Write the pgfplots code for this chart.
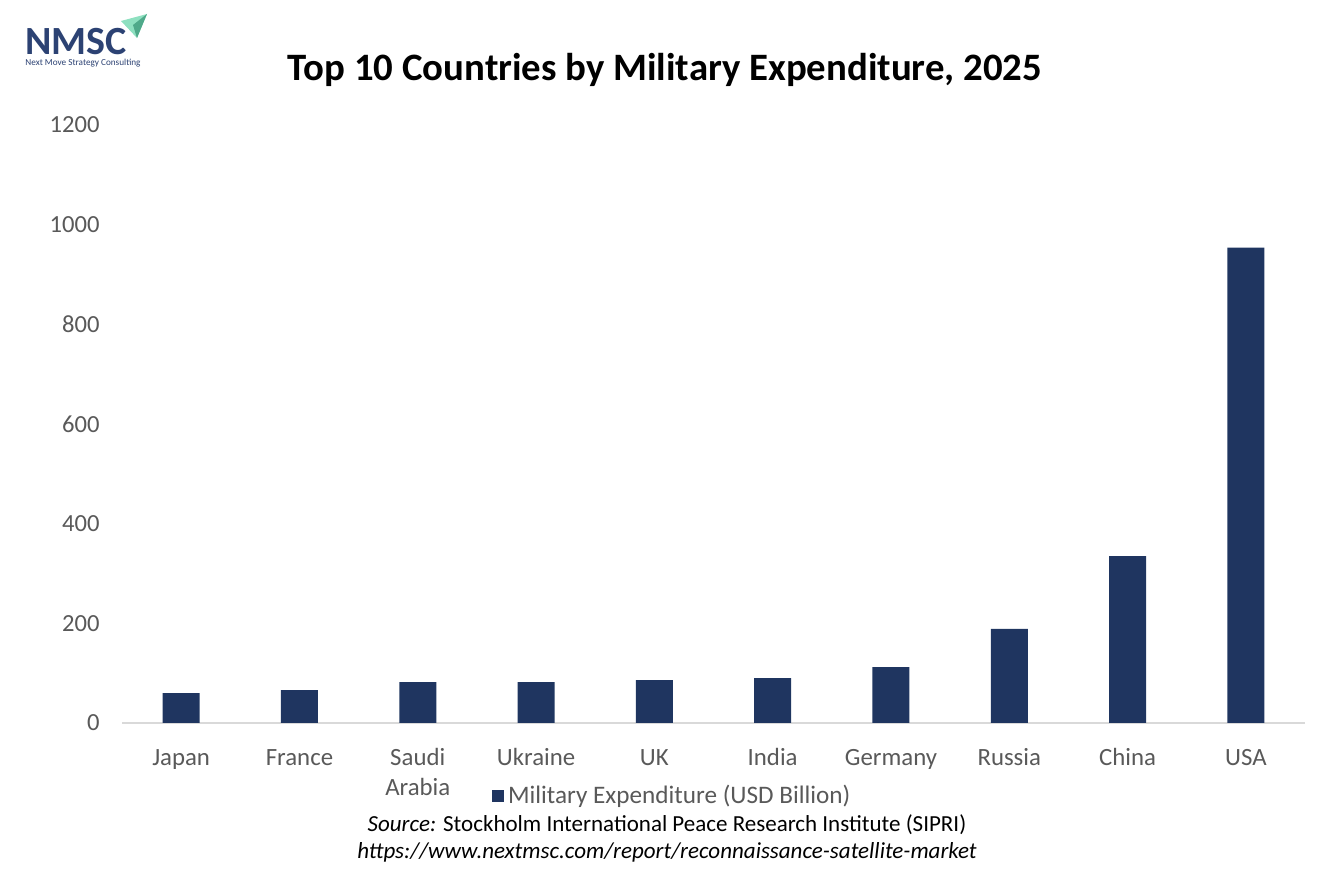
\documentclass[border=0pt]{standalone}
\usepackage{pgfplots}
\pgfplotsset{compat=1.18}
\usepackage{fontspec}
\setmainfont{Carlito}
\definecolor{barblue}{HTML}{1F3560}
\definecolor{tickgray}{HTML}{595959}
\definecolor{axisgray}{HTML}{D9D9D9}
\definecolor{logoblue}{HTML}{2C4273}
\definecolor{mint}{HTML}{8EE0C0}
\definecolor{teal}{HTML}{4FA98A}
\newcommand\PX[2]{({0.5*#1pt},{0.5*(889-#2)*1pt})}
\begin{document}
\begin{tikzpicture}
\path[use as bounding box] \PX{0}{0} rectangle \PX{1334}{889};
% logo
\fill[mint] \PX{121}{21} -- \PX{147}{14} -- \PX{137}{38} -- cycle;
\fill[teal] \PX{133}{25} -- \PX{147}{14} -- \PX{137}{38} -- cycle;
\node[anchor=base west,inner sep=0pt,text=logoblue,font=\fontsize{20}{20}\selectfont\bfseries] at \PX{25}{55} {NMSC};
\node[anchor=base west,inner sep=0pt,text=logoblue,font=\fontsize{4.6}{5}\selectfont] at \PX{25}{66} {Next Move Strategy Consulting};
% title
\node[font=\fontsize{19.4}{21}\selectfont\bfseries] at \PX{665}{70} {Top 10 Countries by Military Expenditure, 2025};
\begin{axis}[
  at={(61pt,83pt)}, anchor=south west,
  scale only axis, width=591.5pt, height=299pt,
  xmin=-0.5, xmax=9.5, ymin=0, ymax=1200,
  axis x line*=bottom, axis y line=none,
  x axis line style={axisgray, line width=1pt, -},
  xtick={0,...,9},
  xticklabels={Japan,France,\rule{0pt}{10.9pt}Saudi\\Arabia,Ukraine,UK,India,Germany,Russia,China,USA},
  x tick label style={align=center, font=\fontsize{12.4}{15}\selectfont, text=tickgray, anchor=north, yshift=-7pt, execute at begin node=\strut},
  major tick length=0pt,
  clip=false,
  legend style={at={(0.466,-0.122)}, anchor=center, draw=none, fill=none,
    font=\fontsize{12.6}{14}\selectfont, text=tickgray, inner sep=0pt,
    legend cell align=left},
  legend image code/.code={\fill[barblue] (0pt,-3pt) rectangle (6pt,3pt);},
]
\addplot[ybar, bar width=18.5pt, fill=barblue, draw=none] coordinates {
  (0,60) (1,66) (2,82) (3,82) (4,86) (5,90) (6,112) (7,189) (8,335) (9,954)};
\addlegendentry{Military Expenditure (USD Billion)}
\end{axis}
\foreach \v/\yy in {0/723,200/623.3,400/523.7,600/424,800/324.3,1000/224.7,1200/125} {
  \node[anchor=east,inner sep=0pt,text=tickgray,font=\fontsize{12.3}{12}\selectfont] at \PX{100}{\yy} {\v};
}
\node[font=\fontsize{11.5}{13}\selectfont] at \PX{667}{825} {\textit{Source:} Stockholm International Peace Research Institute (SIPRI)};
\node[font=\fontsize{11.5}{13}\selectfont\itshape] at \PX{667}{852} {https://www.nextmsc.com/report/reconnaissance-satellite-market};
\end{tikzpicture}
\end{document}
